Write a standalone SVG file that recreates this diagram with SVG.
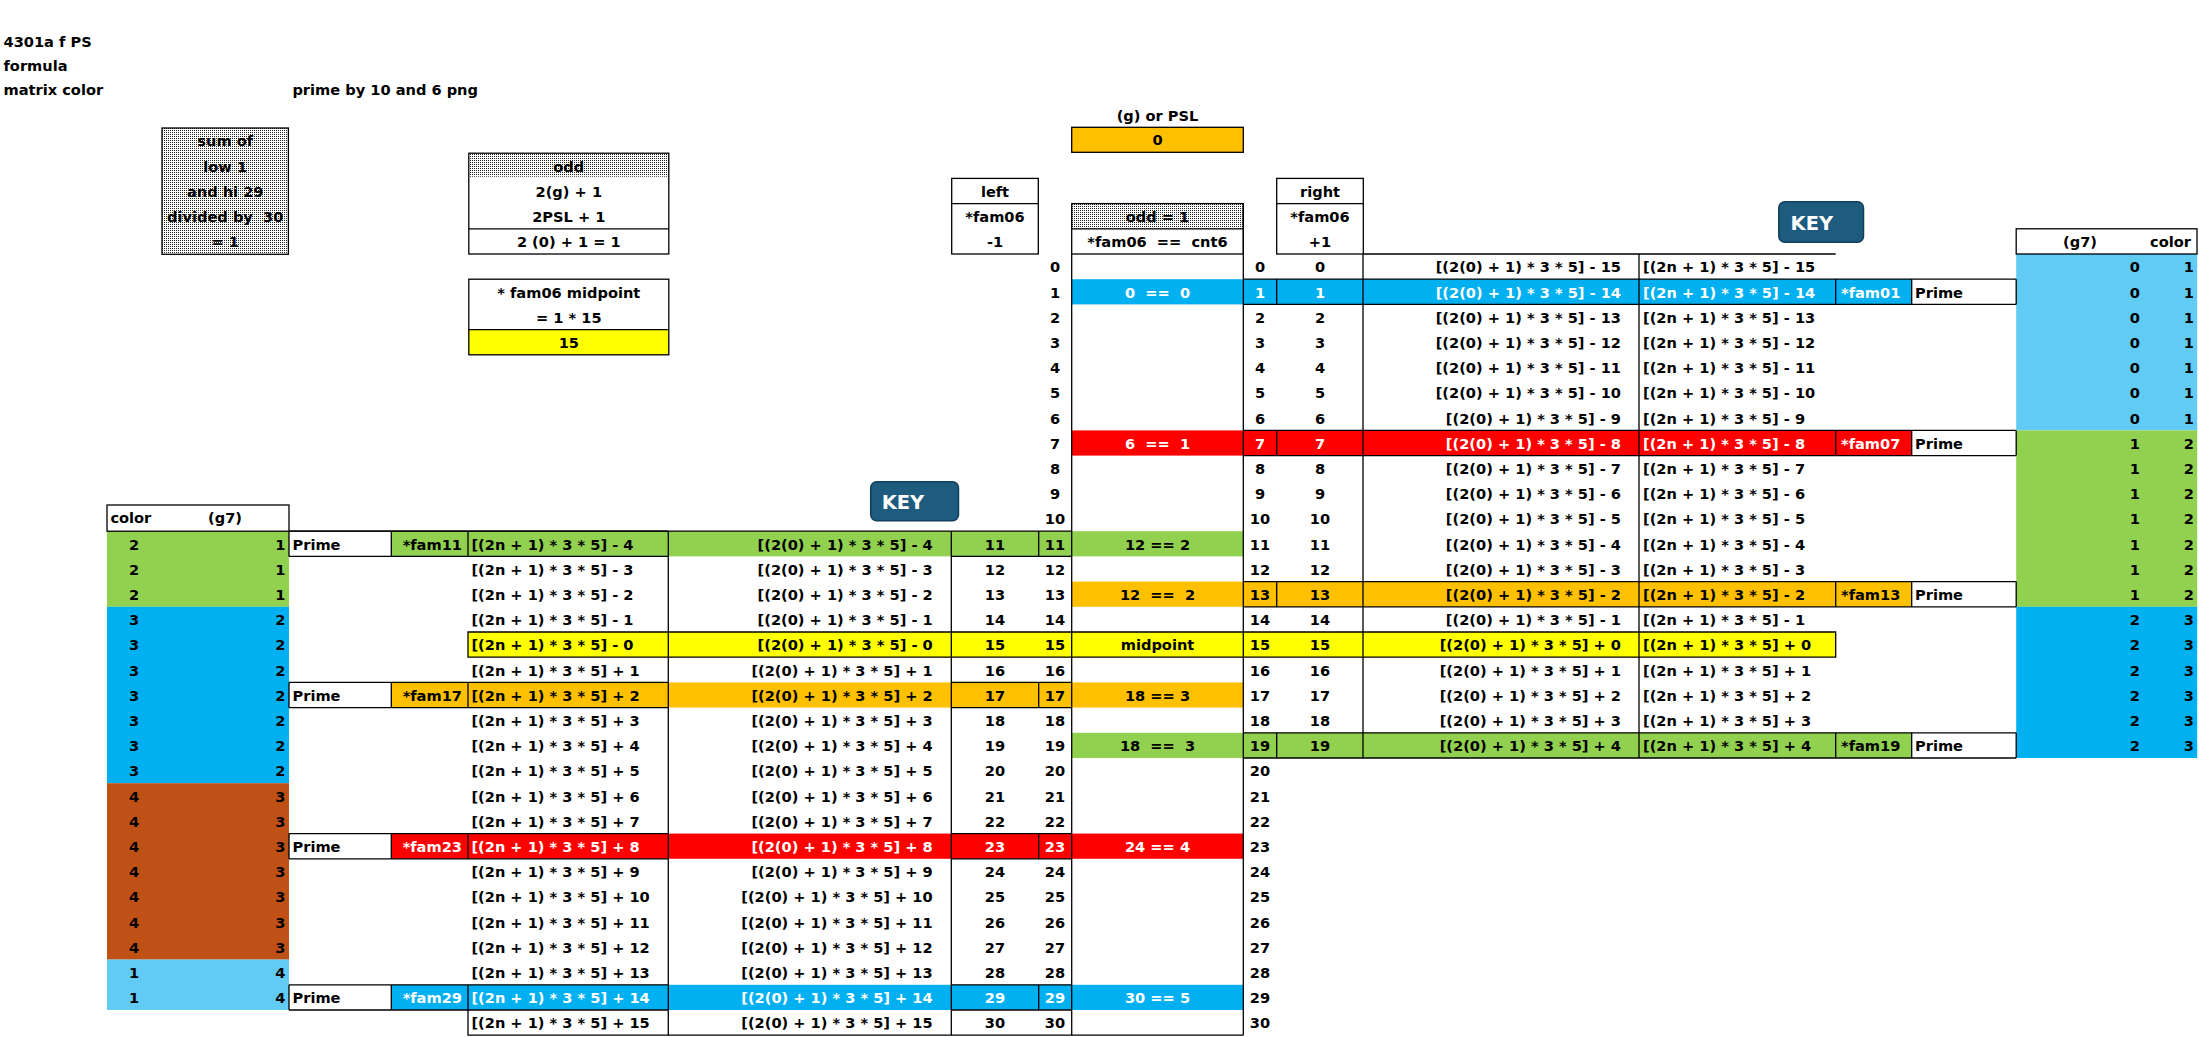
<svg xmlns="http://www.w3.org/2000/svg" width="2199" height="1037" viewBox="0 0 2199 1037">
<style>
text{font-family:"DejaVu Sans",Verdana,sans-serif;font-weight:bold;font-size:14.6px;fill:#000;white-space:pre}
.c{text-anchor:middle}
.e{text-anchor:end}
.w{fill:#fff}
.k{font-size:19.5px;fill:#fff}
.ln{stroke:#000;stroke-width:1.3;fill:none}
.key{fill:#1D5B7F;stroke:#123F5A;stroke-width:1.5}
</style>
<defs>
<pattern id="dots" width="2" height="2" patternUnits="userSpaceOnUse">
<rect width="2" height="2" fill="#fff"/>
<rect width="1" height="1" fill="#222"/>
</pattern>
</defs>
<rect width="2199" height="1037" fill="#fff"/>

<g id="fills">
<rect x="2016.2" y="254" width="181" height="176.4" fill="#61CBF3"/>
<rect x="2016.2" y="430.4" width="181" height="176.4" fill="#92D050"/>
<rect x="2016.2" y="606.8" width="181" height="151.2" fill="#00B0F0"/>
<rect x="107" y="531.2" width="182" height="75.6" fill="#92D050"/>
<rect x="107" y="606.8" width="182" height="176.4" fill="#00B0F0"/>
<rect x="107" y="783.2" width="182" height="176.4" fill="#BF5116"/>
<rect x="107" y="959.6" width="182" height="50.4" fill="#61CBF3"/>
<rect x="1071.7" y="279.2" width="840" height="25.2" fill="#00B0F0"/>
<rect x="1071.7" y="430.4" width="840" height="25.2" fill="#FF0000"/>
<rect x="1071.7" y="581.6" width="840" height="25.2" fill="#FFC000"/>
<rect x="1071.7" y="732.8" width="840" height="25.2" fill="#92D050"/>
<rect x="391.3" y="531.2" width="852" height="25.2" fill="#92D050"/>
<rect x="391.3" y="682.4" width="852" height="25.2" fill="#FFC000"/>
<rect x="391.3" y="833.6" width="852" height="25.2" fill="#FF0000"/>
<rect x="391.3" y="984.8" width="852" height="25.2" fill="#00B0F0"/>
<rect x="468" y="632" width="1367.7" height="25.2" fill="#FFFF00"/>
<rect x="1071.7" y="127.3" width="171.6" height="25" fill="#FFC000"/>
<rect x="468.8" y="329.6" width="200" height="25.2" fill="#FFFF00"/>
<rect x="162" y="128" width="126.4" height="126.3" fill="url(#dots)"/>
<rect x="468.8" y="153.2" width="200" height="23.5" fill="url(#dots)"/>
<rect x="1071.7" y="203.6" width="171.6" height="25.2" fill="url(#dots)"/>
</g>

<g id="grid-lines" class="ln">
<rect x="162" y="128" width="126.4" height="126.3"/>
<rect x="468.8" y="153.2" width="200" height="100.8"/>
<path d="M468.8 228.8H668.8"/>
<rect x="468.8" y="279.2" width="200" height="75.6"/>
<path d="M468.8 329.6H668.8"/>
<rect x="1071.7" y="127.3" width="171.6" height="25"/>
<rect x="951.7" y="178.4" width="86.6" height="75.6"/>
<path d="M951.7 203.6H1038.3"/>
<rect x="1276.7" y="178.4" width="86.6" height="75.6"/>
<path d="M1276.7 203.6H1363.3"/>
<rect x="1071.7" y="203.6" width="171.6" height="50.4"/>
<path d="M1071.7 228.8H1243.3"/>
<path d="M1071.7 254V1035.2M1243.3 203.6V1035.2"/>
<path d="M1363 254H1835.7M1363 254V758M1639 254V758"/>
<rect x="2016.2" y="228.8" width="180.8" height="25.2"/>
<path d="M1243.3 279.2H2016.2M1243.3 304.4H2016.2M1276.7 279.2V304.4M1835.7 279.2V304.4M1911.7 279.2V304.4M2016.2 279.2V304.4"/>
<path d="M1243.3 430.4H2016.2M1243.3 455.6H2016.2M1276.7 430.4V455.6M1835.7 430.4V455.6M1911.7 430.4V455.6M2016.2 430.4V455.6"/>
<path d="M1243.3 581.6H2016.2M1243.3 606.8H2016.2M1276.7 581.6V606.8M1835.7 581.6V606.8M1911.7 581.6V606.8M2016.2 581.6V606.8"/>
<path d="M1243.3 732.8H2016.2M1243.3 758H2016.2M1276.7 732.8V758M1835.7 732.8V758M1911.7 732.8V758M2016.2 732.8V758"/>
<path d="M468 632H1835.7V657.2H468Z"/>
<rect x="107" y="505" width="182" height="26.2"/>
<path d="M668.3 531.2V1035.2M951.3 531.2V1035.2M289 531.2H951.3"/>
<path d="M289 531.2H668.3M289 556.4H668.3M289 531.2V556.4M391.3 531.2V556.4M468 531.2V556.4M951.3 531.2H1071.7M951.3 556.4H1071.7M1038.7 531.2V556.4"/>
<path d="M289 682.4H668.3M289 707.6H668.3M289 682.4V707.6M391.3 682.4V707.6M468 682.4V707.6M951.3 682.4H1071.7M951.3 707.6H1071.7M1038.7 682.4V707.6"/>
<path d="M289 833.6H668.3M289 858.8H668.3M289 833.6V858.8M391.3 833.6V858.8M468 833.6V858.8M951.3 833.6H1071.7M951.3 858.8H1071.7M1038.7 833.6V858.8"/>
<path d="M289 984.8H668.3M289 1010H668.3M289 984.8V1010M391.3 984.8V1010M468 984.8V1010M951.3 984.8H1071.7M951.3 1010H1071.7M1038.7 984.8V1010"/>
<path d="M468 1010V1035.2H1243.3"/>
</g>

<g id="titles">
<text x="3.5" y="46.5">4301a f PS</text>
<text x="3.5" y="71">formula</text>
<text x="3.5" y="94.5">matrix color</text>
<text x="292.4" y="95">prime by 10 and 6 png</text>
</g>

<g id="sum-box">
<text class="c" x="225.2" y="146.3">sum of</text>
<text class="c" x="225.2" y="171.5">low 1</text>
<text class="c" x="225.2" y="196.7">and hi 29</text>
<text class="c" x="225.2" y="221.9">divided by  30</text>
<text class="c" x="225.2" y="247.1">= 1</text>
</g>

<g id="odd-box">
<text class="c" x="568.8" y="171.5">odd</text>
<text class="c" x="568.8" y="196.7">2(g) + 1</text>
<text class="c" x="568.8" y="221.9">2PSL + 1</text>
<text class="c" x="568.8" y="247.1">2 (0) + 1 = 1</text>
</g>

<g id="midpoint-box">
<text class="c" x="568.8" y="297.5">* fam06 midpoint</text>
<text class="c" x="568.8" y="322.7">= 1 * 15</text>
<text class="c" x="568.8" y="347.9">15</text>
</g>

<g id="psl">
<text class="c" x="1157.5" y="121">(g) or PSL</text>
<text class="c" x="1157.5" y="145">0</text>
</g>

<g id="left-head">
<text class="c" x="995" y="196.7">left</text>
<text class="c" x="995" y="221.9">*fam06</text>
<text class="c" x="995" y="247.1">-1</text>
</g>

<g id="right-head">
<text class="c" x="1320" y="196.7">right</text>
<text class="c" x="1320" y="221.9">*fam06</text>
<text class="c" x="1320" y="247.1">+1</text>
</g>

<g id="mid-head">
<text class="c" x="1157.5" y="221.9">odd = 1</text>
<text class="c" x="1157.5" y="247.1">*fam06  ==  cnt6</text>
</g>

<g id="key-right">
<rect class="key" x="1778.8" y="201.7" width="84.7" height="40.6" rx="6"/>
<text class="k" x="1790.6" y="230">KEY</text>
</g>
<g id="key-left">
<rect class="key" x="870.7" y="481.7" width="87.8" height="39" rx="6"/>
<text class="k" x="881.7" y="509.3">KEY</text>
</g>

<g id="mid-col">
<text class="c w" x="1157.5" y="297.5">0  ==  0</text>
<text class="c w" x="1157.5" y="448.7">6  ==  1</text>
<text class="c" x="1157.5" y="549.5">12 == 2</text>
<text class="c" x="1157.5" y="599.9">12  ==  2</text>
<text class="c" x="1157.5" y="650.3">midpoint</text>
<text class="c" x="1157.5" y="700.7">18 == 3</text>
<text class="c" x="1157.5" y="751.1">18  ==  3</text>
<text class="c w" x="1157.5" y="851.9">24 == 4</text>
<text class="c w" x="1157.5" y="1003.1">30 == 5</text>
</g>

<g id="left-numbers">
<text class="c" x="1055" y="272.3">0</text>
<text class="c" x="1055" y="297.5">1</text>
<text class="c" x="1055" y="322.7">2</text>
<text class="c" x="1055" y="347.9">3</text>
<text class="c" x="1055" y="373.1">4</text>
<text class="c" x="1055" y="398.3">5</text>
<text class="c" x="1055" y="423.5">6</text>
<text class="c" x="1055" y="448.7">7</text>
<text class="c" x="1055" y="473.9">8</text>
<text class="c" x="1055" y="499.1">9</text>
<text class="c" x="1055" y="524.3">10</text>
<text class="c" x="1055" y="549.5">11</text>
<text class="c" x="1055" y="574.7">12</text>
<text class="c" x="1055" y="599.9">13</text>
<text class="c" x="1055" y="625.1">14</text>
<text class="c" x="1055" y="650.3">15</text>
<text class="c" x="1055" y="675.5">16</text>
<text class="c" x="1055" y="700.7">17</text>
<text class="c" x="1055" y="725.9">18</text>
<text class="c" x="1055" y="751.1">19</text>
<text class="c" x="1055" y="776.3">20</text>
<text class="c" x="1055" y="801.5">21</text>
<text class="c" x="1055" y="826.7">22</text>
<text class="c w" x="1055" y="851.9">23</text>
<text class="c" x="1055" y="877.1">24</text>
<text class="c" x="1055" y="902.3">25</text>
<text class="c" x="1055" y="927.5">26</text>
<text class="c" x="1055" y="952.7">27</text>
<text class="c" x="1055" y="977.9">28</text>
<text class="c w" x="1055" y="1003.1">29</text>
<text class="c" x="1055" y="1028.3">30</text>
<text class="c" x="995" y="549.5">11</text>
<text class="c" x="995" y="574.7">12</text>
<text class="c" x="995" y="599.9">13</text>
<text class="c" x="995" y="625.1">14</text>
<text class="c" x="995" y="650.3">15</text>
<text class="c" x="995" y="675.5">16</text>
<text class="c" x="995" y="700.7">17</text>
<text class="c" x="995" y="725.9">18</text>
<text class="c" x="995" y="751.1">19</text>
<text class="c" x="995" y="776.3">20</text>
<text class="c" x="995" y="801.5">21</text>
<text class="c" x="995" y="826.7">22</text>
<text class="c w" x="995" y="851.9">23</text>
<text class="c" x="995" y="877.1">24</text>
<text class="c" x="995" y="902.3">25</text>
<text class="c" x="995" y="927.5">26</text>
<text class="c" x="995" y="952.7">27</text>
<text class="c" x="995" y="977.9">28</text>
<text class="c w" x="995" y="1003.1">29</text>
<text class="c" x="995" y="1028.3">30</text>
</g>

<g id="right-numbers">
<text class="c" x="1260" y="272.3">0</text>
<text class="c w" x="1260" y="297.5">1</text>
<text class="c" x="1260" y="322.7">2</text>
<text class="c" x="1260" y="347.9">3</text>
<text class="c" x="1260" y="373.1">4</text>
<text class="c" x="1260" y="398.3">5</text>
<text class="c" x="1260" y="423.5">6</text>
<text class="c w" x="1260" y="448.7">7</text>
<text class="c" x="1260" y="473.9">8</text>
<text class="c" x="1260" y="499.1">9</text>
<text class="c" x="1260" y="524.3">10</text>
<text class="c" x="1260" y="549.5">11</text>
<text class="c" x="1260" y="574.7">12</text>
<text class="c" x="1260" y="599.9">13</text>
<text class="c" x="1260" y="625.1">14</text>
<text class="c" x="1260" y="650.3">15</text>
<text class="c" x="1260" y="675.5">16</text>
<text class="c" x="1260" y="700.7">17</text>
<text class="c" x="1260" y="725.9">18</text>
<text class="c" x="1260" y="751.1">19</text>
<text class="c" x="1260" y="776.3">20</text>
<text class="c" x="1260" y="801.5">21</text>
<text class="c" x="1260" y="826.7">22</text>
<text class="c" x="1260" y="851.9">23</text>
<text class="c" x="1260" y="877.1">24</text>
<text class="c" x="1260" y="902.3">25</text>
<text class="c" x="1260" y="927.5">26</text>
<text class="c" x="1260" y="952.7">27</text>
<text class="c" x="1260" y="977.9">28</text>
<text class="c" x="1260" y="1003.1">29</text>
<text class="c" x="1260" y="1028.3">30</text>
<text class="c" x="1320" y="272.3">0</text>
<text class="c w" x="1320" y="297.5">1</text>
<text class="c" x="1320" y="322.7">2</text>
<text class="c" x="1320" y="347.9">3</text>
<text class="c" x="1320" y="373.1">4</text>
<text class="c" x="1320" y="398.3">5</text>
<text class="c" x="1320" y="423.5">6</text>
<text class="c w" x="1320" y="448.7">7</text>
<text class="c" x="1320" y="473.9">8</text>
<text class="c" x="1320" y="499.1">9</text>
<text class="c" x="1320" y="524.3">10</text>
<text class="c" x="1320" y="549.5">11</text>
<text class="c" x="1320" y="574.7">12</text>
<text class="c" x="1320" y="599.9">13</text>
<text class="c" x="1320" y="625.1">14</text>
<text class="c" x="1320" y="650.3">15</text>
<text class="c" x="1320" y="675.5">16</text>
<text class="c" x="1320" y="700.7">17</text>
<text class="c" x="1320" y="725.9">18</text>
<text class="c" x="1320" y="751.1">19</text>
</g>

<g id="right-formulas">
<text class="e" x="1621" y="272.3">[(2(0) + 1) * 3 * 5] - 15</text>
<text class="e w" x="1621" y="297.5">[(2(0) + 1) * 3 * 5] - 14</text>
<text class="e" x="1621" y="322.7">[(2(0) + 1) * 3 * 5] - 13</text>
<text class="e" x="1621" y="347.9">[(2(0) + 1) * 3 * 5] - 12</text>
<text class="e" x="1621" y="373.1">[(2(0) + 1) * 3 * 5] - 11</text>
<text class="e" x="1621" y="398.3">[(2(0) + 1) * 3 * 5] - 10</text>
<text class="e" x="1621" y="423.5">[(2(0) + 1) * 3 * 5] - 9</text>
<text class="e w" x="1621" y="448.7">[(2(0) + 1) * 3 * 5] - 8</text>
<text class="e" x="1621" y="473.9">[(2(0) + 1) * 3 * 5] - 7</text>
<text class="e" x="1621" y="499.1">[(2(0) + 1) * 3 * 5] - 6</text>
<text class="e" x="1621" y="524.3">[(2(0) + 1) * 3 * 5] - 5</text>
<text class="e" x="1621" y="549.5">[(2(0) + 1) * 3 * 5] - 4</text>
<text class="e" x="1621" y="574.7">[(2(0) + 1) * 3 * 5] - 3</text>
<text class="e" x="1621" y="599.9">[(2(0) + 1) * 3 * 5] - 2</text>
<text class="e" x="1621" y="625.1">[(2(0) + 1) * 3 * 5] - 1</text>
<text class="e" x="1621" y="650.3">[(2(0) + 1) * 3 * 5] + 0</text>
<text class="e" x="1621" y="675.5">[(2(0) + 1) * 3 * 5] + 1</text>
<text class="e" x="1621" y="700.7">[(2(0) + 1) * 3 * 5] + 2</text>
<text class="e" x="1621" y="725.9">[(2(0) + 1) * 3 * 5] + 3</text>
<text class="e" x="1621" y="751.1">[(2(0) + 1) * 3 * 5] + 4</text>
<text x="1643" y="272.3">[(2n + 1) * 3 * 5] - 15</text>
<text class="w" x="1643" y="297.5">[(2n + 1) * 3 * 5] - 14</text>
<text x="1643" y="322.7">[(2n + 1) * 3 * 5] - 13</text>
<text x="1643" y="347.9">[(2n + 1) * 3 * 5] - 12</text>
<text x="1643" y="373.1">[(2n + 1) * 3 * 5] - 11</text>
<text x="1643" y="398.3">[(2n + 1) * 3 * 5] - 10</text>
<text x="1643" y="423.5">[(2n + 1) * 3 * 5] - 9</text>
<text class="w" x="1643" y="448.7">[(2n + 1) * 3 * 5] - 8</text>
<text x="1643" y="473.9">[(2n + 1) * 3 * 5] - 7</text>
<text x="1643" y="499.1">[(2n + 1) * 3 * 5] - 6</text>
<text x="1643" y="524.3">[(2n + 1) * 3 * 5] - 5</text>
<text x="1643" y="549.5">[(2n + 1) * 3 * 5] - 4</text>
<text x="1643" y="574.7">[(2n + 1) * 3 * 5] - 3</text>
<text x="1643" y="599.9">[(2n + 1) * 3 * 5] - 2</text>
<text x="1643" y="625.1">[(2n + 1) * 3 * 5] - 1</text>
<text x="1643" y="650.3">[(2n + 1) * 3 * 5] + 0</text>
<text x="1643" y="675.5">[(2n + 1) * 3 * 5] + 1</text>
<text x="1643" y="700.7">[(2n + 1) * 3 * 5] + 2</text>
<text x="1643" y="725.9">[(2n + 1) * 3 * 5] + 3</text>
<text x="1643" y="751.1">[(2n + 1) * 3 * 5] + 4</text>
<text class="w" x="1841" y="297.5">*fam01</text>
<text class="w" x="1841" y="448.7">*fam07</text>
<text x="1841" y="599.9">*fam13</text>
<text x="1841" y="751.1">*fam19</text>
<text x="1915" y="297.5">Prime</text>
<text x="1915" y="448.7">Prime</text>
<text x="1915" y="599.9">Prime</text>
<text x="1915" y="751.1">Prime</text>
</g>

<g id="right-color-table">
<text class="c" x="2080" y="247.1">(g7)</text>
<text class="e" x="2191" y="247.1">color</text>
<text class="e" x="2140" y="272.3">0</text><text class="e" x="2194" y="272.3">1</text>
<text class="e" x="2140" y="297.5">0</text><text class="e" x="2194" y="297.5">1</text>
<text class="e" x="2140" y="322.7">0</text><text class="e" x="2194" y="322.7">1</text>
<text class="e" x="2140" y="347.9">0</text><text class="e" x="2194" y="347.9">1</text>
<text class="e" x="2140" y="373.1">0</text><text class="e" x="2194" y="373.1">1</text>
<text class="e" x="2140" y="398.3">0</text><text class="e" x="2194" y="398.3">1</text>
<text class="e" x="2140" y="423.5">0</text><text class="e" x="2194" y="423.5">1</text>
<text class="e" x="2140" y="448.7">1</text><text class="e" x="2194" y="448.7">2</text>
<text class="e" x="2140" y="473.9">1</text><text class="e" x="2194" y="473.9">2</text>
<text class="e" x="2140" y="499.1">1</text><text class="e" x="2194" y="499.1">2</text>
<text class="e" x="2140" y="524.3">1</text><text class="e" x="2194" y="524.3">2</text>
<text class="e" x="2140" y="549.5">1</text><text class="e" x="2194" y="549.5">2</text>
<text class="e" x="2140" y="574.7">1</text><text class="e" x="2194" y="574.7">2</text>
<text class="e" x="2140" y="599.9">1</text><text class="e" x="2194" y="599.9">2</text>
<text class="e" x="2140" y="625.1">2</text><text class="e" x="2194" y="625.1">3</text>
<text class="e" x="2140" y="650.3">2</text><text class="e" x="2194" y="650.3">3</text>
<text class="e" x="2140" y="675.5">2</text><text class="e" x="2194" y="675.5">3</text>
<text class="e" x="2140" y="700.7">2</text><text class="e" x="2194" y="700.7">3</text>
<text class="e" x="2140" y="725.9">2</text><text class="e" x="2194" y="725.9">3</text>
<text class="e" x="2140" y="751.1">2</text><text class="e" x="2194" y="751.1">3</text>
</g>

<g id="left-formulas">
<text x="471.4" y="549.5">[(2n + 1) * 3 * 5] - 4</text>
<text x="471.4" y="574.7">[(2n + 1) * 3 * 5] - 3</text>
<text x="471.4" y="599.9">[(2n + 1) * 3 * 5] - 2</text>
<text x="471.4" y="625.1">[(2n + 1) * 3 * 5] - 1</text>
<text x="471.4" y="650.3">[(2n + 1) * 3 * 5] - 0</text>
<text x="471.4" y="675.5">[(2n + 1) * 3 * 5] + 1</text>
<text x="471.4" y="700.7">[(2n + 1) * 3 * 5] + 2</text>
<text x="471.4" y="725.9">[(2n + 1) * 3 * 5] + 3</text>
<text x="471.4" y="751.1">[(2n + 1) * 3 * 5] + 4</text>
<text x="471.4" y="776.3">[(2n + 1) * 3 * 5] + 5</text>
<text x="471.4" y="801.5">[(2n + 1) * 3 * 5] + 6</text>
<text x="471.4" y="826.7">[(2n + 1) * 3 * 5] + 7</text>
<text class="w" x="471.4" y="851.9">[(2n + 1) * 3 * 5] + 8</text>
<text x="471.4" y="877.1">[(2n + 1) * 3 * 5] + 9</text>
<text x="471.4" y="902.3">[(2n + 1) * 3 * 5] + 10</text>
<text x="471.4" y="927.5">[(2n + 1) * 3 * 5] + 11</text>
<text x="471.4" y="952.7">[(2n + 1) * 3 * 5] + 12</text>
<text x="471.4" y="977.9">[(2n + 1) * 3 * 5] + 13</text>
<text class="w" x="471.4" y="1003.1">[(2n + 1) * 3 * 5] + 14</text>
<text x="471.4" y="1028.3">[(2n + 1) * 3 * 5] + 15</text>
<text class="e" x="932.7" y="549.5">[(2(0) + 1) * 3 * 5] - 4</text>
<text class="e" x="932.7" y="574.7">[(2(0) + 1) * 3 * 5] - 3</text>
<text class="e" x="932.7" y="599.9">[(2(0) + 1) * 3 * 5] - 2</text>
<text class="e" x="932.7" y="625.1">[(2(0) + 1) * 3 * 5] - 1</text>
<text class="e" x="932.7" y="650.3">[(2(0) + 1) * 3 * 5] - 0</text>
<text class="e" x="932.7" y="675.5">[(2(0) + 1) * 3 * 5] + 1</text>
<text class="e" x="932.7" y="700.7">[(2(0) + 1) * 3 * 5] + 2</text>
<text class="e" x="932.7" y="725.9">[(2(0) + 1) * 3 * 5] + 3</text>
<text class="e" x="932.7" y="751.1">[(2(0) + 1) * 3 * 5] + 4</text>
<text class="e" x="932.7" y="776.3">[(2(0) + 1) * 3 * 5] + 5</text>
<text class="e" x="932.7" y="801.5">[(2(0) + 1) * 3 * 5] + 6</text>
<text class="e" x="932.7" y="826.7">[(2(0) + 1) * 3 * 5] + 7</text>
<text class="e w" x="932.7" y="851.9">[(2(0) + 1) * 3 * 5] + 8</text>
<text class="e" x="932.7" y="877.1">[(2(0) + 1) * 3 * 5] + 9</text>
<text class="e" x="932.7" y="902.3">[(2(0) + 1) * 3 * 5] + 10</text>
<text class="e" x="932.7" y="927.5">[(2(0) + 1) * 3 * 5] + 11</text>
<text class="e" x="932.7" y="952.7">[(2(0) + 1) * 3 * 5] + 12</text>
<text class="e" x="932.7" y="977.9">[(2(0) + 1) * 3 * 5] + 13</text>
<text class="e w" x="932.7" y="1003.1">[(2(0) + 1) * 3 * 5] + 14</text>
<text class="e" x="932.7" y="1028.3">[(2(0) + 1) * 3 * 5] + 15</text>
<text class="e" x="462" y="549.5">*fam11</text>
<text class="e" x="462" y="700.7">*fam17</text>
<text class="e w" x="462" y="851.9">*fam23</text>
<text class="e w" x="462" y="1003.1">*fam29</text>
<text x="292.5" y="549.5">Prime</text>
<text x="292.5" y="700.7">Prime</text>
<text x="292.5" y="851.9">Prime</text>
<text x="292.5" y="1003.1">Prime</text>
</g>

<g id="left-color-table">
<text x="110.4" y="523.3">color</text>
<text class="c" x="225" y="523.3">(g7)</text>
<text class="c" x="134" y="549.5">2</text><text class="e" x="285.5" y="549.5">1</text>
<text class="c" x="134" y="574.7">2</text><text class="e" x="285.5" y="574.7">1</text>
<text class="c" x="134" y="599.9">2</text><text class="e" x="285.5" y="599.9">1</text>
<text class="c" x="134" y="625.1">3</text><text class="e" x="285.5" y="625.1">2</text>
<text class="c" x="134" y="650.3">3</text><text class="e" x="285.5" y="650.3">2</text>
<text class="c" x="134" y="675.5">3</text><text class="e" x="285.5" y="675.5">2</text>
<text class="c" x="134" y="700.7">3</text><text class="e" x="285.5" y="700.7">2</text>
<text class="c" x="134" y="725.9">3</text><text class="e" x="285.5" y="725.9">2</text>
<text class="c" x="134" y="751.1">3</text><text class="e" x="285.5" y="751.1">2</text>
<text class="c" x="134" y="776.3">3</text><text class="e" x="285.5" y="776.3">2</text>
<text class="c" x="134" y="801.5">4</text><text class="e" x="285.5" y="801.5">3</text>
<text class="c" x="134" y="826.7">4</text><text class="e" x="285.5" y="826.7">3</text>
<text class="c" x="134" y="851.9">4</text><text class="e" x="285.5" y="851.9">3</text>
<text class="c" x="134" y="877.1">4</text><text class="e" x="285.5" y="877.1">3</text>
<text class="c" x="134" y="902.3">4</text><text class="e" x="285.5" y="902.3">3</text>
<text class="c" x="134" y="927.5">4</text><text class="e" x="285.5" y="927.5">3</text>
<text class="c" x="134" y="952.7">4</text><text class="e" x="285.5" y="952.7">3</text>
<text class="c" x="134" y="977.9">1</text><text class="e" x="285.5" y="977.9">4</text>
<text class="c" x="134" y="1003.1">1</text><text class="e" x="285.5" y="1003.1">4</text>
</g>
</svg>
